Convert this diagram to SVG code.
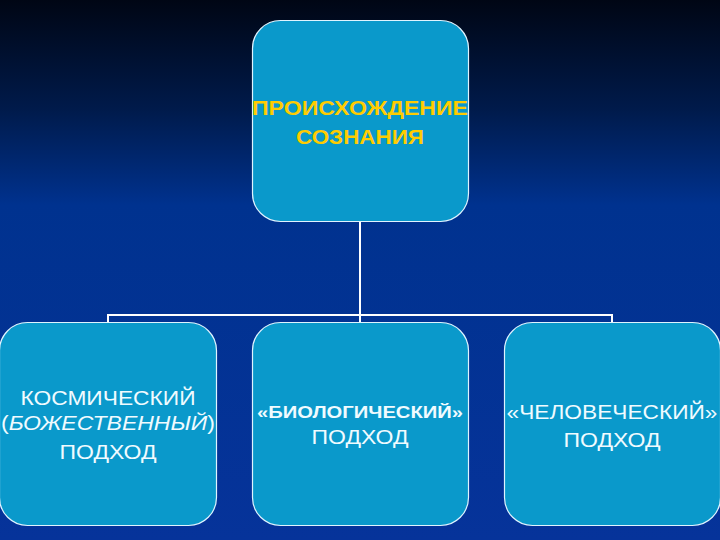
<svg xmlns="http://www.w3.org/2000/svg" width="720" height="540" viewBox="0 0 720 540">
  <defs>
    <linearGradient id="bg" x1="0" y1="0" x2="0" y2="1">
      <stop offset="0" stop-color="#000614"/>
      <stop offset="0.2" stop-color="#001a4a"/>
      <stop offset="0.38" stop-color="#00328f"/>
      <stop offset="1" stop-color="#06339a"/>
    </linearGradient>
    <style>
      .box { fill: #0a99cb; stroke: #dff4ff; stroke-width: 1.2; }
      .conn { fill: none; stroke: #ffffff; stroke-width: 2; }
      .t { font-family: "Liberation Sans", Arial, sans-serif; text-anchor: middle; fill: #f0fbff; font-size: 21px; }
      .title { fill: #ffcc00; font-weight: bold; font-size: 21px; }
      .b { font-weight: bold; font-size: 17px; }
    </style>
  </defs>
  <rect x="0" y="0" width="720" height="540" fill="url(#bg)"/>

  <g id="connectors">
    <path class="conn" d="M360 222 V315"/>
    <path class="conn" d="M108 322 V315 H612 V322"/>
    <path class="conn" d="M360 315 V322"/>
  </g>

  <g id="origin">
    <rect class="box" x="252.5" y="20.5" width="216" height="201" rx="28" ry="28"/>
    <text class="t title" x="360" y="115" textLength="216" lengthAdjust="spacingAndGlyphs">ПРОИСХОЖДЕНИЕ</text>
    <text class="t title" x="360" y="144" textLength="128" lengthAdjust="spacingAndGlyphs">СОЗНАНИЯ</text>
  </g>

  <g id="cosmic">
    <rect class="box" x="-0.5" y="322.5" width="217" height="203" rx="28" ry="28"/>
    <text class="t" x="108" y="405" textLength="175" lengthAdjust="spacingAndGlyphs">КОСМИЧЕСКИЙ</text>
    <text class="t" x="108" y="430" textLength="214" lengthAdjust="spacingAndGlyphs">(<tspan font-style="italic">БОЖЕСТВЕННЫЙ</tspan>)</text>
    <text class="t" x="108" y="459" textLength="97" lengthAdjust="spacingAndGlyphs">ПОДХОД</text>
  </g>

  <g id="biological">
    <rect class="box" x="252.5" y="322.5" width="216" height="203" rx="28" ry="28"/>
    <text class="t b" x="360" y="418" textLength="206" lengthAdjust="spacingAndGlyphs">«БИОЛОГИЧЕСКИЙ»</text>
    <text class="t" x="360" y="444" textLength="97" lengthAdjust="spacingAndGlyphs">ПОДХОД</text>
  </g>

  <g id="human">
    <rect class="box" x="504.5" y="322.5" width="216" height="203" rx="28" ry="28"/>
    <text class="t" x="612" y="419" textLength="211" lengthAdjust="spacingAndGlyphs">«ЧЕЛОВЕЧЕСКИЙ»</text>
    <text class="t" x="612" y="447" textLength="97" lengthAdjust="spacingAndGlyphs">ПОДХОД</text>
  </g>
</svg>
